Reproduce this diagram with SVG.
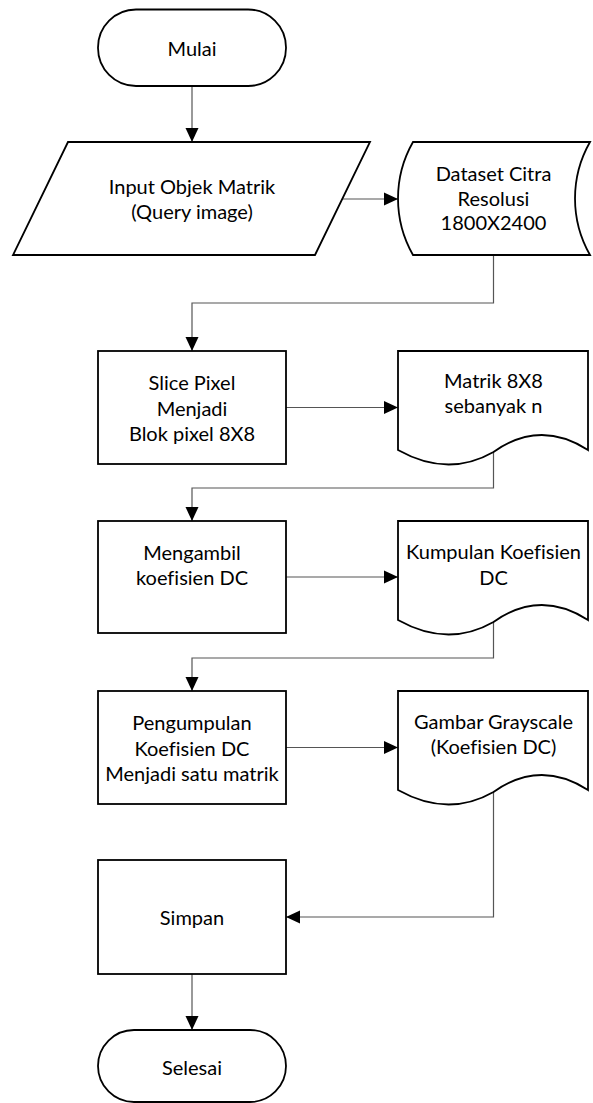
<svg xmlns="http://www.w3.org/2000/svg" width="593" height="1103" viewBox="0 0 593 1103">
<defs>
<style>
.shape{fill:#fff;stroke:#000;stroke-width:1.8;}
.conn{fill:none;stroke:#555;stroke-width:1.2;}
text{font-family:Lato,"Liberation Sans",sans-serif;font-size:20px;fill:#000;text-anchor:middle;font-variant-ligatures:none;}
</style>
<marker id="arr" markerUnits="userSpaceOnUse" markerWidth="14" markerHeight="14" viewBox="0 0 14 14" refX="14" refY="7" orient="auto">
<path d="M0,0.5 L14,7 L0,13.5 Z" fill="#000"/>
</marker>
</defs>
<g id="connectors">
<path class="conn" d="M192,86 V142" marker-end="url(#arr)"/>
<path class="conn" d="M342,199 H398" marker-end="url(#arr)"/>
<path class="conn" d="M493.5,255 V303 H192 V351" marker-end="url(#arr)"/>
<path class="conn" d="M286,407.5 H398" marker-end="url(#arr)"/>
<path class="conn" d="M493.5,452 V488 H192 V521" marker-end="url(#arr)"/>
<path class="conn" d="M286,577 H398" marker-end="url(#arr)"/>
<path class="conn" d="M493.5,622 V658 H192 V691" marker-end="url(#arr)"/>
<path class="conn" d="M286,747.5 H398" marker-end="url(#arr)"/>
<path class="conn" d="M493.5,792 V917 H286" marker-end="url(#arr)"/>
<path class="conn" d="M192,974 V1030" marker-end="url(#arr)"/>
</g>
<g id="mulai">
<rect class="shape" x="98" y="9.5" width="188" height="76.5" rx="38" ry="38"/>
<text x="192" y="55.5">Mulai</text>
</g>
<g id="input">
<path class="shape" d="M68,142 H370 L315,255 H13 Z"/>
<text x="192" y="193.5">Input Objek Matrik</text>
<text x="192" y="219">(Query image)</text>
</g>
<g id="dataset">
<path class="shape" d="M413,142 H590 A114,114 0 0 0 590,255 H413 A114,114 0 0 1 413,142 Z"/>
<text x="493.5" y="181">Dataset Citra</text>
<text x="493.5" y="205.5">Resolusi</text>
<text x="493.5" y="230">1800X2400</text>
</g>
<g id="slice">
<rect class="shape" x="98" y="351" width="188" height="113"/>
<text x="192" y="390">Slice Pixel</text>
<text x="192" y="415.5">Menjadi</text>
<text x="192" y="441">Blok pixel 8X8</text>
</g>
<g id="matrik">
<path class="shape" d="M398,351 H588 V450 Q540,419 493.5,452 Q448,478 398,450 Z"/>
<text x="493.5" y="388">Matrik 8X8</text>
<text x="493.5" y="413">sebanyak n</text>
</g>
<g id="mengambil">
<rect class="shape" x="98" y="521" width="188" height="112"/>
<text x="192" y="559.5">Mengambil</text>
<text x="192" y="585">koefisien DC</text>
</g>
<g id="kumpulan">
<path class="shape" d="M398,521 H588 V620 Q540,589 493.5,622 Q448,648 398,620 Z"/>
<text x="493.5" y="559">Kumpulan Koefisien</text>
<text x="493.5" y="584.5">DC</text>
</g>
<g id="pengumpulan">
<rect class="shape" x="98" y="691" width="188" height="113"/>
<text x="192" y="730">Pengumpulan</text>
<text x="192" y="755.5">Koefisien DC</text>
<text x="192" y="781">Menjadi satu matrik</text>
</g>
<g id="gambar">
<path class="shape" d="M398,691 H588 V790 Q540,759 493.5,792 Q448,818 398,790 Z"/>
<text x="493.5" y="728.5">Gambar Grayscale</text>
<text x="493.5" y="754">(Koefisien DC)</text>
</g>
<g id="simpan">
<rect class="shape" x="98" y="860" width="188" height="114"/>
<text x="192" y="925">Simpan</text>
</g>
<g id="selesai">
<rect class="shape" x="98" y="1030" width="188" height="72" rx="36" ry="36"/>
<text x="192" y="1075">Selesai</text>
</g>
</svg>
